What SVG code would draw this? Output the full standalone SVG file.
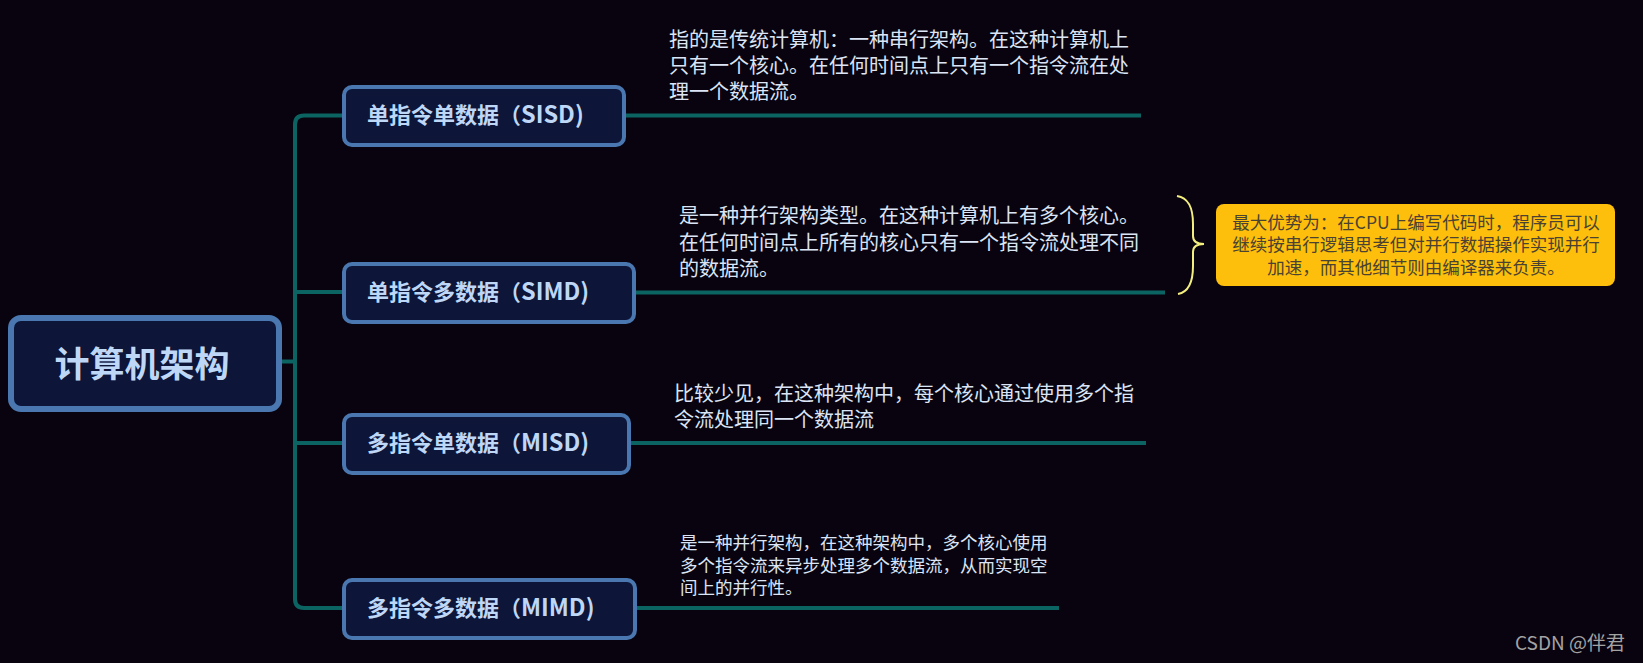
<svg xmlns="http://www.w3.org/2000/svg" width="1643" height="663" viewBox="0 0 1643 663">
<style>
.node rect{fill:#0d1538;stroke:#4a77b0;stroke-width:4}
.node text{font-family:"Noto Sans CJK SC","Noto Sans",sans-serif;font-weight:bold;font-size:22px;fill:#bed7f7}
.node tspan{font-size:23.5px}
.desc{font-family:"Noto Sans CJK SC","Noto Sans",sans-serif;font-size:20px;fill:#dbe5f6}
.conn{fill:none;stroke:#0b6462;stroke-width:4;stroke-linecap:butt}
</style>
<rect x="0" y="0" width="1643" height="663" fill="#09030f"/>
<g id="connectors">
<path class="conn" d="M279,361.5 H295"/>
<path class="conn" d="M344,115.5 H304 Q295,115.5 295,124.5 V599 Q295,608 304,608 H344"/>
<path class="conn" d="M295,292 H344"/>
<path class="conn" d="M295,443 H344"/>
<path class="conn" d="M626,115.5 H1141"/>
<path class="conn" d="M636,292.5 H1165"/>
<path class="conn" d="M631,443 H1146"/>
<path class="conn" d="M637,608 H1059"/>
</g>
<g id="root" class="node">
<rect x="11" y="318" width="268" height="91" rx="10" style="stroke-width:6"/>
<text x="142" y="377" text-anchor="middle" style="font-size:35px">计算机架构</text>
</g>
<g id="sisd" class="node">
<rect x="344" y="87" width="280" height="58" rx="8"/>
<text x="367" y="123">单指令单数据（<tspan>SISD)</tspan></text>
</g>
<g id="simd" class="node">
<rect x="344" y="264" width="290" height="58" rx="8"/>
<text x="367" y="300">单指令多数据（<tspan>SIMD)</tspan></text>
</g>
<g id="misd" class="node">
<rect x="344" y="415" width="285" height="58" rx="8"/>
<text x="367" y="451">多指令单数据（<tspan>MISD)</tspan></text>
</g>
<g id="mimd" class="node">
<rect x="344" y="580" width="291" height="58" rx="8"/>
<text x="367" y="616">多指令多数据（<tspan>MIMD)</tspan></text>
</g>
<g id="sisd-desc" class="desc">
<text x="669" y="47">指的是传统计算机：一种串行架构。在这种计算机上</text>
<text x="669" y="73">只有一个核心。在任何时间点上只有一个指令流在处</text>
<text x="669" y="99">理一个数据流。</text>
</g>
<g id="simd-desc" class="desc">
<text x="679" y="223">是一种并行架构类型。在这种计算机上有多个核心。</text>
<text x="679" y="250">在任何时间点上所有的核心只有一个指令流处理不同</text>
<text x="679" y="276">的数据流。</text>
</g>
<g id="misd-desc" class="desc">
<text x="674" y="401">比较少见，在这种架构中，每个核心通过使用多个指</text>
<text x="674" y="427">令流处理同一个数据流</text>
</g>
<g id="mimd-desc" class="desc" style="font-size:17.5px">
<text x="680" y="549">是一种并行架构，在这种架构中，多个核心使用</text>
<text x="680" y="572">多个指令流来异步处理多个数据流，从而实现空</text>
<text x="680" y="594">间上的并行性。</text>
</g>
<g id="brace">
<path d="M1177,196 C1189,198 1193,208 1193,224 L1193,236 C1193,241 1197,244 1204,244 C1197,244 1193,247 1193,252 L1193,266 C1193,282 1189,292 1178,294" fill="none" stroke="#f3ee80" stroke-width="2"/>
</g>
<g id="note">
<rect x="1216" y="204" width="399" height="82" rx="8" fill="#fdbf0b"/>
<g style="font-family:'Noto Sans CJK SC','Noto Sans',sans-serif;font-size:17.5px;fill:#4a4232" text-anchor="middle">
<text x="1416" y="229">最大优势为：在CPU上编写代码时，程序员可以</text>
<text x="1416" y="251">继续按串行逻辑思考但对并行数据操作实现并行</text>
<text x="1416" y="274">加速，而其他细节则由编译器来负责。</text>
</g>
</g>
<text x="1515" y="650" style="font-family:'Noto Sans CJK SC','Noto Sans',sans-serif;font-size:19px;fill:#a3a3a3">CSDN @伴君</text>
</svg>
